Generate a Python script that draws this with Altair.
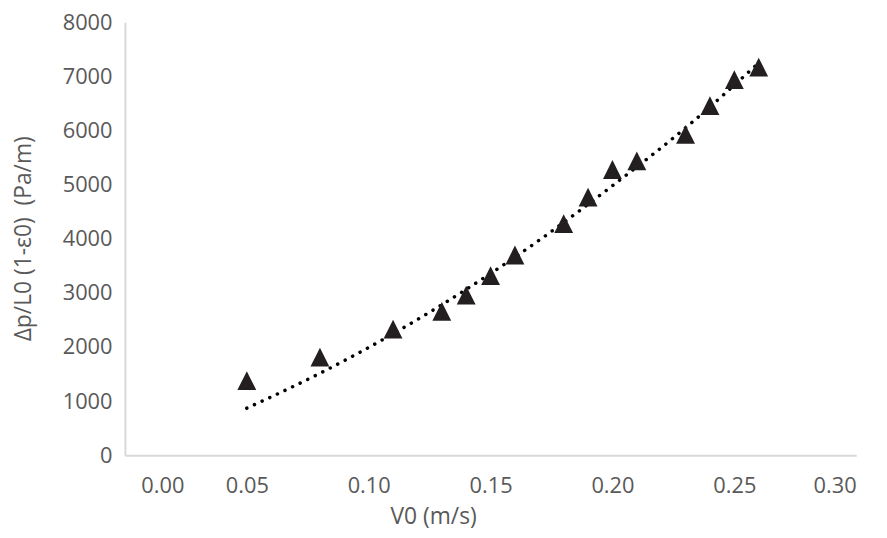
import altair as alt
import pandas as pd

# measured points
v0 = [0.05, 0.08, 0.11, 0.13, 0.14, 0.15, 0.16, 0.18, 0.19, 0.20, 0.21, 0.23, 0.24, 0.25, 0.26]
dp = [1380, 1815, 2330, 2660, 2960, 3320, 3700, 4280, 4770, 5280, 5440, 5930, 6460, 6940, 7170]

# dotted model curve
curve_v0 = [0.05, 0.08, 0.11, 0.14, 0.17, 0.20, 0.23, 0.26]
curve_dp = [870, 1515, 2245, 3065, 3975, 4980, 6050, 7250]

x_ticks = [0.0, 0.05, 0.10, 0.15, 0.20, 0.25, 0.30]
y_ticks = [0, 1000, 2000, 3000, 4000, 5000, 6000, 7000, 8000]

df = pd.DataFrame({"v0": v0, "dp": dp})
cf = pd.DataFrame({"v0": curve_v0, "dp": curve_dp})

FONT = "Open Sans"
GREY = "#595959"

xs = alt.X("v0:Q", scale=alt.Scale(domain=[0, 0.30], nice=False, zero=False),
           axis=alt.Axis(values=x_ticks, format=".2f", title="V0 (m/s)", grid=False, ticks=False,
                         domainColor="#d9d9d9", domainWidth=2, labelColor=GREY, labelFont=FONT,
                         labelFontSize=22, labelPadding=21,
                         labelOffset={"condition": {"test": "datum.value == 0", "value": 16}, "value": 0},
                         titleFont=FONT, titleFontSize=23, titleColor=GREY, titleFontWeight="normal",
                         titleX=311, titleY=62, titleAlign="center", titleBaseline="middle"))
ys = alt.Y("dp:Q", scale=alt.Scale(domain=[0, 8000], nice=False),
           axis=alt.Axis(values=y_ticks, format="d", title="Δp/L0 (1-ε0)\u00a0 (Pa/m)", grid=False, ticks=False,
                         domainColor="#d9d9d9", domainWidth=2, labelColor=GREY, labelFont=FONT,
                         labelFontSize=22, labelPadding=13,
                         titleFont=FONT, titleFontSize=23, titleColor=GREY, titleFontWeight="normal",
                         titleX=-102, titleY=218, titleAngle=270, titleAlign="center", titleBaseline="middle"))

trend = alt.Chart(cf).mark_line(
    color="black", strokeWidth=3.5, strokeDash=[0.1, 8.4], strokeCap="round", interpolate="monotone"
).encode(x=xs, y=ys)
pts = alt.Chart(df).mark_point(shape="M0,-1L1,1L-1,1Z", filled=True, size=361, color="#231f20",
                               opacity=1).encode(x=xs, y=ys)

chart = alt.layer(trend, pts).properties(
    width=738, height=437,
    autosize=alt.AutoSizeParams(type="none"),
    padding={"left": 118, "top": 12, "right": 23, "bottom": 73},
    background="white",
).configure_view(stroke=None)

chart.save("out.html", embed_options={"renderer": "svg", "actions": False})
